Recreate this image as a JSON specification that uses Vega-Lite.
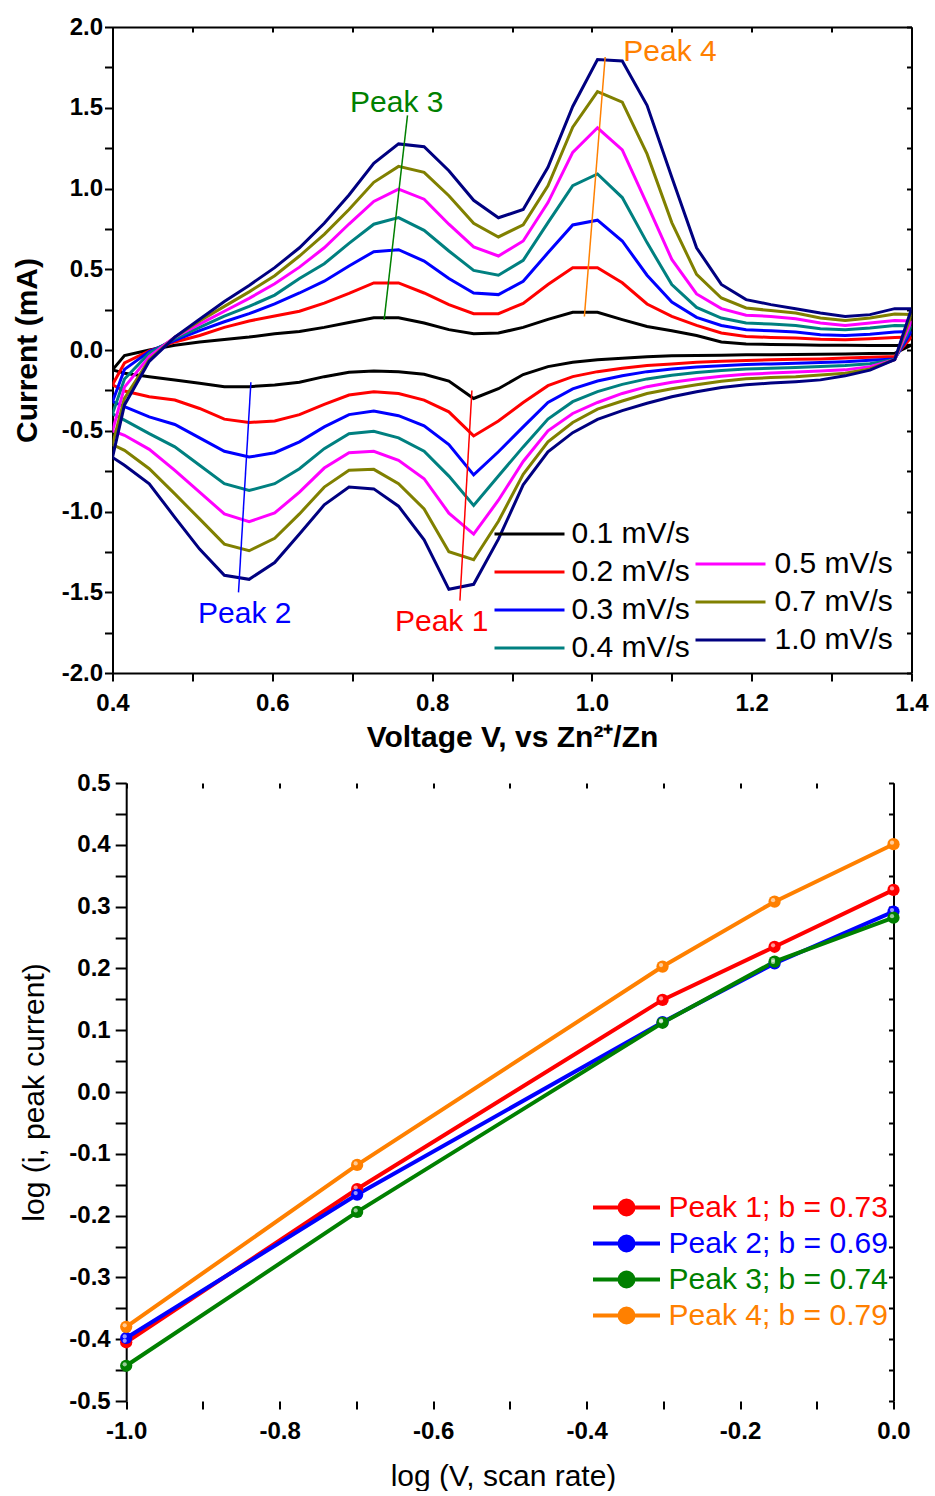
{
"$schema": "https://vega.github.io/schema/vega-lite/v6.json",
"background": "white",
"padding": {"left": 11.5, "top": 15, "right": 0, "bottom": 0},
"config": {
  "view": {"stroke": null},
  "font": "Liberation Sans",
  "axis": {"domainColor": "black", "domainWidth": 2, "tickColor": "black", "tickWidth": 2, "labelFont": "Liberation Sans", "labelFontWeight": "bold", "labelFontSize": 24, "labelColor": "black", "titleColor": "black", "titleFont": "Liberation Sans", "titleFontSize": 30, "grid": false, "labelFlush": false, "labelOverlap": false, "labelBound": false},
  "legend": {"labelFont": "Liberation Sans", "labelFontSize": 30, "labelColor": "black", "labelLimit": 0, "padding": 0, "title": null}
},
"datasets": {
  "cv": [
{"s":"0.1 mV/s","b":"a","v":0.400,"i":-0.123},{"s":"0.1 mV/s","b":"a","v":0.415,"i":-0.035},{"s":"0.1 mV/s","b":"a","v":0.446,"i":0.0},{"s":"0.1 mV/s","b":"a","v":0.478,"i":0.03},{"s":"0.1 mV/s","b":"a","v":0.509,"i":0.05},{"s":"0.1 mV/s","b":"a","v":0.540,"i":0.065},{"s":"0.1 mV/s","b":"a","v":0.571,"i":0.08},{"s":"0.1 mV/s","b":"a","v":0.603,"i":0.10},{"s":"0.1 mV/s","b":"a","v":0.634,"i":0.115},{"s":"0.1 mV/s","b":"a","v":0.665,"i":0.14},{"s":"0.1 mV/s","b":"a","v":0.696,"i":0.17},{"s":"0.1 mV/s","b":"a","v":0.727,"i":0.20},{"s":"0.1 mV/s","b":"a","v":0.758,"i":0.20},{"s":"0.1 mV/s","b":"a","v":0.790,"i":0.167},{"s":"0.1 mV/s","b":"a","v":0.821,"i":0.126},{"s":"0.1 mV/s","b":"a","v":0.852,"i":0.10},{"s":"0.1 mV/s","b":"a","v":0.883,"i":0.105},{"s":"0.1 mV/s","b":"a","v":0.914,"i":0.14},{"s":"0.1 mV/s","b":"a","v":0.945,"i":0.19},{"s":"0.1 mV/s","b":"a","v":0.976,"i":0.233},{"s":"0.1 mV/s","b":"a","v":1.007,"i":0.233},{"s":"0.1 mV/s","b":"a","v":1.038,"i":0.188},{"s":"0.1 mV/s","b":"a","v":1.069,"i":0.146},{"s":"0.1 mV/s","b":"a","v":1.100,"i":0.119},{"s":"0.1 mV/s","b":"a","v":1.131,"i":0.09},{"s":"0.1 mV/s","b":"a","v":1.162,"i":0.05},{"s":"0.1 mV/s","b":"a","v":1.193,"i":0.037},{"s":"0.1 mV/s","b":"a","v":1.224,"i":0.034},{"s":"0.1 mV/s","b":"a","v":1.255,"i":0.032},{"s":"0.1 mV/s","b":"a","v":1.286,"i":0.03},{"s":"0.1 mV/s","b":"a","v":1.317,"i":0.029},{"s":"0.1 mV/s","b":"a","v":1.348,"i":0.028},{"s":"0.1 mV/s","b":"a","v":1.379,"i":0.028},{"s":"0.1 mV/s","b":"a","v":1.400,"i":0.03},
{"s":"0.1 mV/s","b":"c","v":0.400,"i":-0.123},{"s":"0.1 mV/s","b":"c","v":0.415,"i":-0.144},{"s":"0.1 mV/s","b":"c","v":0.446,"i":-0.165},{"s":"0.1 mV/s","b":"c","v":0.478,"i":-0.186},{"s":"0.1 mV/s","b":"c","v":0.509,"i":-0.206},{"s":"0.1 mV/s","b":"c","v":0.540,"i":-0.227},{"s":"0.1 mV/s","b":"c","v":0.571,"i":-0.227},{"s":"0.1 mV/s","b":"c","v":0.603,"i":-0.217},{"s":"0.1 mV/s","b":"c","v":0.634,"i":-0.20},{"s":"0.1 mV/s","b":"c","v":0.665,"i":-0.165},{"s":"0.1 mV/s","b":"c","v":0.696,"i":-0.138},{"s":"0.1 mV/s","b":"c","v":0.727,"i":-0.13},{"s":"0.1 mV/s","b":"c","v":0.758,"i":-0.134},{"s":"0.1 mV/s","b":"c","v":0.790,"i":-0.15},{"s":"0.1 mV/s","b":"c","v":0.821,"i":-0.192},{"s":"0.1 mV/s","b":"c","v":0.852,"i":-0.30},{"s":"0.1 mV/s","b":"c","v":0.883,"i":-0.24},{"s":"0.1 mV/s","b":"c","v":0.914,"i":-0.152},{"s":"0.1 mV/s","b":"c","v":0.945,"i":-0.103},{"s":"0.1 mV/s","b":"c","v":0.976,"i":-0.076},{"s":"0.1 mV/s","b":"c","v":1.007,"i":-0.061},{"s":"0.1 mV/s","b":"c","v":1.038,"i":-0.051},{"s":"0.1 mV/s","b":"c","v":1.069,"i":-0.042},{"s":"0.1 mV/s","b":"c","v":1.100,"i":-0.036},{"s":"0.1 mV/s","b":"c","v":1.131,"i":-0.034},{"s":"0.1 mV/s","b":"c","v":1.162,"i":-0.032},{"s":"0.1 mV/s","b":"c","v":1.193,"i":-0.030},{"s":"0.1 mV/s","b":"c","v":1.224,"i":-0.029},{"s":"0.1 mV/s","b":"c","v":1.255,"i":-0.028},{"s":"0.1 mV/s","b":"c","v":1.286,"i":-0.026},{"s":"0.1 mV/s","b":"c","v":1.317,"i":-0.024},{"s":"0.1 mV/s","b":"c","v":1.348,"i":-0.022},{"s":"0.1 mV/s","b":"c","v":1.379,"i":-0.02},{"s":"0.1 mV/s","b":"c","v":1.400,"i":0.03},
{"s":"0.2 mV/s","b":"a","v":0.400,"i":-0.215},{"s":"0.2 mV/s","b":"a","v":0.415,"i":-0.08},{"s":"0.2 mV/s","b":"a","v":0.446,"i":-0.005},{"s":"0.2 mV/s","b":"a","v":0.478,"i":0.05},{"s":"0.2 mV/s","b":"a","v":0.509,"i":0.09},{"s":"0.2 mV/s","b":"a","v":0.540,"i":0.14},{"s":"0.2 mV/s","b":"a","v":0.571,"i":0.18},{"s":"0.2 mV/s","b":"a","v":0.603,"i":0.21},{"s":"0.2 mV/s","b":"a","v":0.634,"i":0.24},{"s":"0.2 mV/s","b":"a","v":0.665,"i":0.29},{"s":"0.2 mV/s","b":"a","v":0.696,"i":0.35},{"s":"0.2 mV/s","b":"a","v":0.727,"i":0.415},{"s":"0.2 mV/s","b":"a","v":0.758,"i":0.415},{"s":"0.2 mV/s","b":"a","v":0.790,"i":0.353},{"s":"0.2 mV/s","b":"a","v":0.821,"i":0.281},{"s":"0.2 mV/s","b":"a","v":0.852,"i":0.225},{"s":"0.2 mV/s","b":"a","v":0.883,"i":0.225},{"s":"0.2 mV/s","b":"a","v":0.914,"i":0.288},{"s":"0.2 mV/s","b":"a","v":0.945,"i":0.405},{"s":"0.2 mV/s","b":"a","v":0.976,"i":0.509},{"s":"0.2 mV/s","b":"a","v":1.007,"i":0.509},{"s":"0.2 mV/s","b":"a","v":1.038,"i":0.416},{"s":"0.2 mV/s","b":"a","v":1.069,"i":0.285},{"s":"0.2 mV/s","b":"a","v":1.100,"i":0.208},{"s":"0.2 mV/s","b":"a","v":1.131,"i":0.152},{"s":"0.2 mV/s","b":"a","v":1.162,"i":0.105},{"s":"0.2 mV/s","b":"a","v":1.193,"i":0.084},{"s":"0.2 mV/s","b":"a","v":1.224,"i":0.078},{"s":"0.2 mV/s","b":"a","v":1.255,"i":0.074},{"s":"0.2 mV/s","b":"a","v":1.286,"i":0.066},{"s":"0.2 mV/s","b":"a","v":1.317,"i":0.063},{"s":"0.2 mV/s","b":"a","v":1.348,"i":0.07},{"s":"0.2 mV/s","b":"a","v":1.379,"i":0.078},{"s":"0.2 mV/s","b":"a","v":1.400,"i":0.08},
{"s":"0.2 mV/s","b":"c","v":0.400,"i":-0.215},{"s":"0.2 mV/s","b":"c","v":0.415,"i":-0.254},{"s":"0.2 mV/s","b":"c","v":0.446,"i":-0.289},{"s":"0.2 mV/s","b":"c","v":0.478,"i":-0.31},{"s":"0.2 mV/s","b":"c","v":0.509,"i":-0.362},{"s":"0.2 mV/s","b":"c","v":0.540,"i":-0.428},{"s":"0.2 mV/s","b":"c","v":0.571,"i":-0.449},{"s":"0.2 mV/s","b":"c","v":0.603,"i":-0.44},{"s":"0.2 mV/s","b":"c","v":0.634,"i":-0.40},{"s":"0.2 mV/s","b":"c","v":0.665,"i":-0.337},{"s":"0.2 mV/s","b":"c","v":0.696,"i":-0.279},{"s":"0.2 mV/s","b":"c","v":0.727,"i":-0.258},{"s":"0.2 mV/s","b":"c","v":0.758,"i":-0.269},{"s":"0.2 mV/s","b":"c","v":0.790,"i":-0.31},{"s":"0.2 mV/s","b":"c","v":0.821,"i":-0.383},{"s":"0.2 mV/s","b":"c","v":0.852,"i":-0.532},{"s":"0.2 mV/s","b":"c","v":0.883,"i":-0.44},{"s":"0.2 mV/s","b":"c","v":0.914,"i":-0.325},{"s":"0.2 mV/s","b":"c","v":0.945,"i":-0.221},{"s":"0.2 mV/s","b":"c","v":0.976,"i":-0.165},{"s":"0.2 mV/s","b":"c","v":1.007,"i":-0.134},{"s":"0.2 mV/s","b":"c","v":1.038,"i":-0.113},{"s":"0.2 mV/s","b":"c","v":1.069,"i":-0.096},{"s":"0.2 mV/s","b":"c","v":1.100,"i":-0.086},{"s":"0.2 mV/s","b":"c","v":1.131,"i":-0.076},{"s":"0.2 mV/s","b":"c","v":1.162,"i":-0.07},{"s":"0.2 mV/s","b":"c","v":1.193,"i":-0.065},{"s":"0.2 mV/s","b":"c","v":1.224,"i":-0.061},{"s":"0.2 mV/s","b":"c","v":1.255,"i":-0.058},{"s":"0.2 mV/s","b":"c","v":1.286,"i":-0.055},{"s":"0.2 mV/s","b":"c","v":1.317,"i":-0.05},{"s":"0.2 mV/s","b":"c","v":1.348,"i":-0.045},{"s":"0.2 mV/s","b":"c","v":1.379,"i":-0.04},{"s":"0.2 mV/s","b":"c","v":1.400,"i":0.08},
{"s":"0.3 mV/s","b":"a","v":0.400,"i":-0.32},{"s":"0.3 mV/s","b":"a","v":0.415,"i":-0.12},{"s":"0.3 mV/s","b":"a","v":0.446,"i":-0.01},{"s":"0.3 mV/s","b":"a","v":0.478,"i":0.06},{"s":"0.3 mV/s","b":"a","v":0.509,"i":0.12},{"s":"0.3 mV/s","b":"a","v":0.540,"i":0.175},{"s":"0.3 mV/s","b":"a","v":0.571,"i":0.225},{"s":"0.3 mV/s","b":"a","v":0.603,"i":0.285},{"s":"0.3 mV/s","b":"a","v":0.634,"i":0.353},{"s":"0.3 mV/s","b":"a","v":0.665,"i":0.426},{"s":"0.3 mV/s","b":"a","v":0.696,"i":0.52},{"s":"0.3 mV/s","b":"a","v":0.727,"i":0.609},{"s":"0.3 mV/s","b":"a","v":0.758,"i":0.621},{"s":"0.3 mV/s","b":"a","v":0.790,"i":0.551},{"s":"0.3 mV/s","b":"a","v":0.821,"i":0.443},{"s":"0.3 mV/s","b":"a","v":0.852,"i":0.353},{"s":"0.3 mV/s","b":"a","v":0.883,"i":0.343},{"s":"0.3 mV/s","b":"a","v":0.914,"i":0.426},{"s":"0.3 mV/s","b":"a","v":0.945,"i":0.602},{"s":"0.3 mV/s","b":"a","v":0.976,"i":0.774},{"s":"0.3 mV/s","b":"a","v":1.007,"i":0.804},{"s":"0.3 mV/s","b":"a","v":1.038,"i":0.675},{"s":"0.3 mV/s","b":"a","v":1.069,"i":0.463},{"s":"0.3 mV/s","b":"a","v":1.100,"i":0.297},{"s":"0.3 mV/s","b":"a","v":1.131,"i":0.202},{"s":"0.3 mV/s","b":"a","v":1.162,"i":0.152},{"s":"0.3 mV/s","b":"a","v":1.193,"i":0.126},{"s":"0.3 mV/s","b":"a","v":1.224,"i":0.119},{"s":"0.3 mV/s","b":"a","v":1.255,"i":0.111},{"s":"0.3 mV/s","b":"a","v":1.286,"i":0.095},{"s":"0.3 mV/s","b":"a","v":1.317,"i":0.09},{"s":"0.3 mV/s","b":"a","v":1.348,"i":0.098},{"s":"0.3 mV/s","b":"a","v":1.379,"i":0.111},{"s":"0.3 mV/s","b":"a","v":1.400,"i":0.115},
{"s":"0.3 mV/s","b":"c","v":0.400,"i":-0.32},{"s":"0.3 mV/s","b":"c","v":0.415,"i":-0.351},{"s":"0.3 mV/s","b":"c","v":0.446,"i":-0.414},{"s":"0.3 mV/s","b":"c","v":0.478,"i":-0.461},{"s":"0.3 mV/s","b":"c","v":0.509,"i":-0.544},{"s":"0.3 mV/s","b":"c","v":0.540,"i":-0.627},{"s":"0.3 mV/s","b":"c","v":0.571,"i":-0.663},{"s":"0.3 mV/s","b":"c","v":0.603,"i":-0.636},{"s":"0.3 mV/s","b":"c","v":0.634,"i":-0.569},{"s":"0.3 mV/s","b":"c","v":0.665,"i":-0.476},{"s":"0.3 mV/s","b":"c","v":0.696,"i":-0.40},{"s":"0.3 mV/s","b":"c","v":0.727,"i":-0.378},{"s":"0.3 mV/s","b":"c","v":0.758,"i":-0.407},{"s":"0.3 mV/s","b":"c","v":0.790,"i":-0.47},{"s":"0.3 mV/s","b":"c","v":0.821,"i":-0.586},{"s":"0.3 mV/s","b":"c","v":0.852,"i":-0.773},{"s":"0.3 mV/s","b":"c","v":0.883,"i":-0.63},{"s":"0.3 mV/s","b":"c","v":0.914,"i":-0.476},{"s":"0.3 mV/s","b":"c","v":0.945,"i":-0.325},{"s":"0.3 mV/s","b":"c","v":0.976,"i":-0.241},{"s":"0.3 mV/s","b":"c","v":1.007,"i":-0.192},{"s":"0.3 mV/s","b":"c","v":1.038,"i":-0.159},{"s":"0.3 mV/s","b":"c","v":1.069,"i":-0.134},{"s":"0.3 mV/s","b":"c","v":1.100,"i":-0.117},{"s":"0.3 mV/s","b":"c","v":1.131,"i":-0.106},{"s":"0.3 mV/s","b":"c","v":1.162,"i":-0.097},{"s":"0.3 mV/s","b":"c","v":1.193,"i":-0.09},{"s":"0.3 mV/s","b":"c","v":1.224,"i":-0.086},{"s":"0.3 mV/s","b":"c","v":1.255,"i":-0.082},{"s":"0.3 mV/s","b":"c","v":1.286,"i":-0.077},{"s":"0.3 mV/s","b":"c","v":1.317,"i":-0.072},{"s":"0.3 mV/s","b":"c","v":1.348,"i":-0.064},{"s":"0.3 mV/s","b":"c","v":1.379,"i":-0.055},{"s":"0.3 mV/s","b":"c","v":1.400,"i":0.115},
{"s":"0.4 mV/s","b":"a","v":0.400,"i":-0.395},{"s":"0.4 mV/s","b":"a","v":0.415,"i":-0.18},{"s":"0.4 mV/s","b":"a","v":0.446,"i":-0.02},{"s":"0.4 mV/s","b":"a","v":0.478,"i":0.07},{"s":"0.4 mV/s","b":"a","v":0.509,"i":0.14},{"s":"0.4 mV/s","b":"a","v":0.540,"i":0.21},{"s":"0.4 mV/s","b":"a","v":0.571,"i":0.27},{"s":"0.4 mV/s","b":"a","v":0.603,"i":0.34},{"s":"0.4 mV/s","b":"a","v":0.634,"i":0.443},{"s":"0.4 mV/s","b":"a","v":0.665,"i":0.534},{"s":"0.4 mV/s","b":"a","v":0.696,"i":0.66},{"s":"0.4 mV/s","b":"a","v":0.727,"i":0.779},{"s":"0.4 mV/s","b":"a","v":0.758,"i":0.82},{"s":"0.4 mV/s","b":"a","v":0.790,"i":0.741},{"s":"0.4 mV/s","b":"a","v":0.821,"i":0.613},{"s":"0.4 mV/s","b":"a","v":0.852,"i":0.493},{"s":"0.4 mV/s","b":"a","v":0.883,"i":0.463},{"s":"0.4 mV/s","b":"a","v":0.914,"i":0.555},{"s":"0.4 mV/s","b":"a","v":0.945,"i":0.789},{"s":"0.4 mV/s","b":"a","v":0.976,"i":1.017},{"s":"0.4 mV/s","b":"a","v":1.007,"i":1.09},{"s":"0.4 mV/s","b":"a","v":1.038,"i":0.944},{"s":"0.4 mV/s","b":"a","v":1.069,"i":0.665},{"s":"0.4 mV/s","b":"a","v":1.100,"i":0.405},{"s":"0.4 mV/s","b":"a","v":1.131,"i":0.264},{"s":"0.4 mV/s","b":"a","v":1.162,"i":0.198},{"s":"0.4 mV/s","b":"a","v":1.193,"i":0.167},{"s":"0.4 mV/s","b":"a","v":1.224,"i":0.161},{"s":"0.4 mV/s","b":"a","v":1.255,"i":0.152},{"s":"0.4 mV/s","b":"a","v":1.286,"i":0.132},{"s":"0.4 mV/s","b":"a","v":1.317,"i":0.126},{"s":"0.4 mV/s","b":"a","v":1.348,"i":0.136},{"s":"0.4 mV/s","b":"a","v":1.379,"i":0.152},{"s":"0.4 mV/s","b":"a","v":1.400,"i":0.15},
{"s":"0.4 mV/s","b":"c","v":0.400,"i":-0.395},{"s":"0.4 mV/s","b":"c","v":0.415,"i":-0.434},{"s":"0.4 mV/s","b":"c","v":0.446,"i":-0.518},{"s":"0.4 mV/s","b":"c","v":0.478,"i":-0.60},{"s":"0.4 mV/s","b":"c","v":0.509,"i":-0.714},{"s":"0.4 mV/s","b":"c","v":0.540,"i":-0.828},{"s":"0.4 mV/s","b":"c","v":0.571,"i":-0.87},{"s":"0.4 mV/s","b":"c","v":0.603,"i":-0.828},{"s":"0.4 mV/s","b":"c","v":0.634,"i":-0.735},{"s":"0.4 mV/s","b":"c","v":0.665,"i":-0.611},{"s":"0.4 mV/s","b":"c","v":0.696,"i":-0.518},{"s":"0.4 mV/s","b":"c","v":0.727,"i":-0.503},{"s":"0.4 mV/s","b":"c","v":0.758,"i":-0.544},{"s":"0.4 mV/s","b":"c","v":0.790,"i":-0.627},{"s":"0.4 mV/s","b":"c","v":0.821,"i":-0.781},{"s":"0.4 mV/s","b":"c","v":0.852,"i":-0.963},{"s":"0.4 mV/s","b":"c","v":0.883,"i":-0.78},{"s":"0.4 mV/s","b":"c","v":0.914,"i":-0.60},{"s":"0.4 mV/s","b":"c","v":0.945,"i":-0.428},{"s":"0.4 mV/s","b":"c","v":0.976,"i":-0.32},{"s":"0.4 mV/s","b":"c","v":1.007,"i":-0.258},{"s":"0.4 mV/s","b":"c","v":1.038,"i":-0.213},{"s":"0.4 mV/s","b":"c","v":1.069,"i":-0.179},{"s":"0.4 mV/s","b":"c","v":1.100,"i":-0.157},{"s":"0.4 mV/s","b":"c","v":1.131,"i":-0.14},{"s":"0.4 mV/s","b":"c","v":1.162,"i":-0.127},{"s":"0.4 mV/s","b":"c","v":1.193,"i":-0.118},{"s":"0.4 mV/s","b":"c","v":1.224,"i":-0.113},{"s":"0.4 mV/s","b":"c","v":1.255,"i":-0.109},{"s":"0.4 mV/s","b":"c","v":1.286,"i":-0.102},{"s":"0.4 mV/s","b":"c","v":1.317,"i":-0.096},{"s":"0.4 mV/s","b":"c","v":1.348,"i":-0.085},{"s":"0.4 mV/s","b":"c","v":1.379,"i":-0.058},{"s":"0.4 mV/s","b":"c","v":1.400,"i":0.15},
{"s":"0.5 mV/s","b":"a","v":0.400,"i":-0.50},{"s":"0.5 mV/s","b":"a","v":0.415,"i":-0.23},{"s":"0.5 mV/s","b":"a","v":0.446,"i":-0.04},{"s":"0.5 mV/s","b":"a","v":0.478,"i":0.08},{"s":"0.5 mV/s","b":"a","v":0.509,"i":0.16},{"s":"0.5 mV/s","b":"a","v":0.540,"i":0.24},{"s":"0.5 mV/s","b":"a","v":0.571,"i":0.32},{"s":"0.5 mV/s","b":"a","v":0.603,"i":0.41},{"s":"0.5 mV/s","b":"a","v":0.634,"i":0.513},{"s":"0.5 mV/s","b":"a","v":0.665,"i":0.633},{"s":"0.5 mV/s","b":"a","v":0.696,"i":0.78},{"s":"0.5 mV/s","b":"a","v":0.727,"i":0.92},{"s":"0.5 mV/s","b":"a","v":0.758,"i":0.996},{"s":"0.5 mV/s","b":"a","v":0.790,"i":0.934},{"s":"0.5 mV/s","b":"a","v":0.821,"i":0.779},{"s":"0.5 mV/s","b":"a","v":0.852,"i":0.638},{"s":"0.5 mV/s","b":"a","v":0.883,"i":0.582},{"s":"0.5 mV/s","b":"a","v":0.914,"i":0.675},{"s":"0.5 mV/s","b":"a","v":0.945,"i":0.913},{"s":"0.5 mV/s","b":"a","v":0.976,"i":1.224},{"s":"0.5 mV/s","b":"a","v":1.007,"i":1.376},{"s":"0.5 mV/s","b":"a","v":1.038,"i":1.239},{"s":"0.5 mV/s","b":"a","v":1.069,"i":0.903},{"s":"0.5 mV/s","b":"a","v":1.100,"i":0.561},{"s":"0.5 mV/s","b":"a","v":1.131,"i":0.347},{"s":"0.5 mV/s","b":"a","v":1.162,"i":0.256},{"s":"0.5 mV/s","b":"a","v":1.193,"i":0.215},{"s":"0.5 mV/s","b":"a","v":1.224,"i":0.208},{"s":"0.5 mV/s","b":"a","v":1.255,"i":0.194},{"s":"0.5 mV/s","b":"a","v":1.286,"i":0.167},{"s":"0.5 mV/s","b":"a","v":1.317,"i":0.152},{"s":"0.5 mV/s","b":"a","v":1.348,"i":0.167},{"s":"0.5 mV/s","b":"a","v":1.379,"i":0.182},{"s":"0.5 mV/s","b":"a","v":1.400,"i":0.18},
{"s":"0.5 mV/s","b":"c","v":0.400,"i":-0.50},{"s":"0.5 mV/s","b":"c","v":0.415,"i":-0.528},{"s":"0.5 mV/s","b":"c","v":0.446,"i":-0.615},{"s":"0.5 mV/s","b":"c","v":0.478,"i":-0.745},{"s":"0.5 mV/s","b":"c","v":0.509,"i":-0.88},{"s":"0.5 mV/s","b":"c","v":0.540,"i":-1.015},{"s":"0.5 mV/s","b":"c","v":0.571,"i":-1.063},{"s":"0.5 mV/s","b":"c","v":0.603,"i":-1.009},{"s":"0.5 mV/s","b":"c","v":0.634,"i":-0.88},{"s":"0.5 mV/s","b":"c","v":0.665,"i":-0.731},{"s":"0.5 mV/s","b":"c","v":0.696,"i":-0.636},{"s":"0.5 mV/s","b":"c","v":0.727,"i":-0.627},{"s":"0.5 mV/s","b":"c","v":0.758,"i":-0.683},{"s":"0.5 mV/s","b":"c","v":0.790,"i":-0.797},{"s":"0.5 mV/s","b":"c","v":0.821,"i":-1.01},{"s":"0.5 mV/s","b":"c","v":0.852,"i":-1.14},{"s":"0.5 mV/s","b":"c","v":0.883,"i":-0.93},{"s":"0.5 mV/s","b":"c","v":0.914,"i":-0.69},{"s":"0.5 mV/s","b":"c","v":0.945,"i":-0.50},{"s":"0.5 mV/s","b":"c","v":0.976,"i":-0.393},{"s":"0.5 mV/s","b":"c","v":1.007,"i":-0.325},{"s":"0.5 mV/s","b":"c","v":1.038,"i":-0.269},{"s":"0.5 mV/s","b":"c","v":1.069,"i":-0.227},{"s":"0.5 mV/s","b":"c","v":1.100,"i":-0.20},{"s":"0.5 mV/s","b":"c","v":1.131,"i":-0.18},{"s":"0.5 mV/s","b":"c","v":1.162,"i":-0.163},{"s":"0.5 mV/s","b":"c","v":1.193,"i":-0.15},{"s":"0.5 mV/s","b":"c","v":1.224,"i":-0.143},{"s":"0.5 mV/s","b":"c","v":1.255,"i":-0.136},{"s":"0.5 mV/s","b":"c","v":1.286,"i":-0.13},{"s":"0.5 mV/s","b":"c","v":1.317,"i":-0.123},{"s":"0.5 mV/s","b":"c","v":1.348,"i":-0.103},{"s":"0.5 mV/s","b":"c","v":1.379,"i":-0.06},{"s":"0.5 mV/s","b":"c","v":1.400,"i":0.18},
{"s":"0.7 mV/s","b":"a","v":0.400,"i":-0.585},{"s":"0.7 mV/s","b":"a","v":0.415,"i":-0.30},{"s":"0.7 mV/s","b":"a","v":0.446,"i":-0.06},{"s":"0.7 mV/s","b":"a","v":0.478,"i":0.08},{"s":"0.7 mV/s","b":"a","v":0.509,"i":0.18},{"s":"0.7 mV/s","b":"a","v":0.540,"i":0.27},{"s":"0.7 mV/s","b":"a","v":0.571,"i":0.36},{"s":"0.7 mV/s","b":"a","v":0.603,"i":0.46},{"s":"0.7 mV/s","b":"a","v":0.634,"i":0.582},{"s":"0.7 mV/s","b":"a","v":0.665,"i":0.716},{"s":"0.7 mV/s","b":"a","v":0.696,"i":0.87},{"s":"0.7 mV/s","b":"a","v":0.727,"i":1.038},{"s":"0.7 mV/s","b":"a","v":0.758,"i":1.137},{"s":"0.7 mV/s","b":"a","v":0.790,"i":1.10},{"s":"0.7 mV/s","b":"a","v":0.821,"i":0.955},{"s":"0.7 mV/s","b":"a","v":0.852,"i":0.785},{"s":"0.7 mV/s","b":"a","v":0.883,"i":0.70},{"s":"0.7 mV/s","b":"a","v":0.914,"i":0.775},{"s":"0.7 mV/s","b":"a","v":0.945,"i":1.017},{"s":"0.7 mV/s","b":"a","v":0.976,"i":1.38},{"s":"0.7 mV/s","b":"a","v":1.007,"i":1.60},{"s":"0.7 mV/s","b":"a","v":1.038,"i":1.535},{"s":"0.7 mV/s","b":"a","v":1.069,"i":1.214},{"s":"0.7 mV/s","b":"a","v":1.100,"i":0.789},{"s":"0.7 mV/s","b":"a","v":1.131,"i":0.468},{"s":"0.7 mV/s","b":"a","v":1.162,"i":0.322},{"s":"0.7 mV/s","b":"a","v":1.193,"i":0.26},{"s":"0.7 mV/s","b":"a","v":1.224,"i":0.244},{"s":"0.7 mV/s","b":"a","v":1.255,"i":0.229},{"s":"0.7 mV/s","b":"a","v":1.286,"i":0.198},{"s":"0.7 mV/s","b":"a","v":1.317,"i":0.182},{"s":"0.7 mV/s","b":"a","v":1.348,"i":0.198},{"s":"0.7 mV/s","b":"a","v":1.379,"i":0.223},{"s":"0.7 mV/s","b":"a","v":1.400,"i":0.22},
{"s":"0.7 mV/s","b":"c","v":0.400,"i":-0.585},{"s":"0.7 mV/s","b":"c","v":0.415,"i":-0.621},{"s":"0.7 mV/s","b":"c","v":0.446,"i":-0.735},{"s":"0.7 mV/s","b":"c","v":0.478,"i":-0.891},{"s":"0.7 mV/s","b":"c","v":0.509,"i":-1.046},{"s":"0.7 mV/s","b":"c","v":0.540,"i":-1.202},{"s":"0.7 mV/s","b":"c","v":0.571,"i":-1.243},{"s":"0.7 mV/s","b":"c","v":0.603,"i":-1.166},{"s":"0.7 mV/s","b":"c","v":0.634,"i":-1.015},{"s":"0.7 mV/s","b":"c","v":0.665,"i":-0.849},{"s":"0.7 mV/s","b":"c","v":0.696,"i":-0.745},{"s":"0.7 mV/s","b":"c","v":0.727,"i":-0.739},{"s":"0.7 mV/s","b":"c","v":0.758,"i":-0.828},{"s":"0.7 mV/s","b":"c","v":0.790,"i":-0.984},{"s":"0.7 mV/s","b":"c","v":0.821,"i":-1.249},{"s":"0.7 mV/s","b":"c","v":0.852,"i":-1.299},{"s":"0.7 mV/s","b":"c","v":0.883,"i":-1.06},{"s":"0.7 mV/s","b":"c","v":0.914,"i":-0.77},{"s":"0.7 mV/s","b":"c","v":0.945,"i":-0.569},{"s":"0.7 mV/s","b":"c","v":0.976,"i":-0.449},{"s":"0.7 mV/s","b":"c","v":1.007,"i":-0.366},{"s":"0.7 mV/s","b":"c","v":1.038,"i":-0.316},{"s":"0.7 mV/s","b":"c","v":1.069,"i":-0.269},{"s":"0.7 mV/s","b":"c","v":1.100,"i":-0.24},{"s":"0.7 mV/s","b":"c","v":1.131,"i":-0.215},{"s":"0.7 mV/s","b":"c","v":1.162,"i":-0.193},{"s":"0.7 mV/s","b":"c","v":1.193,"i":-0.178},{"s":"0.7 mV/s","b":"c","v":1.224,"i":-0.171},{"s":"0.7 mV/s","b":"c","v":1.255,"i":-0.165},{"s":"0.7 mV/s","b":"c","v":1.286,"i":-0.155},{"s":"0.7 mV/s","b":"c","v":1.317,"i":-0.144},{"s":"0.7 mV/s","b":"c","v":1.348,"i":-0.117},{"s":"0.7 mV/s","b":"c","v":1.379,"i":-0.06},{"s":"0.7 mV/s","b":"c","v":1.400,"i":0.22},
{"s":"1.0 mV/s","b":"a","v":0.400,"i":-0.665},{"s":"1.0 mV/s","b":"a","v":0.415,"i":-0.34},{"s":"1.0 mV/s","b":"a","v":0.446,"i":-0.07},{"s":"1.0 mV/s","b":"a","v":0.478,"i":0.08},{"s":"1.0 mV/s","b":"a","v":0.509,"i":0.19},{"s":"1.0 mV/s","b":"a","v":0.540,"i":0.30},{"s":"1.0 mV/s","b":"a","v":0.571,"i":0.40},{"s":"1.0 mV/s","b":"a","v":0.603,"i":0.51},{"s":"1.0 mV/s","b":"a","v":0.634,"i":0.633},{"s":"1.0 mV/s","b":"a","v":0.665,"i":0.785},{"s":"1.0 mV/s","b":"a","v":0.696,"i":0.96},{"s":"1.0 mV/s","b":"a","v":0.727,"i":1.156},{"s":"1.0 mV/s","b":"a","v":0.758,"i":1.276},{"s":"1.0 mV/s","b":"a","v":0.790,"i":1.259},{"s":"1.0 mV/s","b":"a","v":0.821,"i":1.11},{"s":"1.0 mV/s","b":"a","v":0.852,"i":0.927},{"s":"1.0 mV/s","b":"a","v":0.883,"i":0.819},{"s":"1.0 mV/s","b":"a","v":0.914,"i":0.87},{"s":"1.0 mV/s","b":"a","v":0.945,"i":1.131},{"s":"1.0 mV/s","b":"a","v":0.976,"i":1.508},{"s":"1.0 mV/s","b":"a","v":1.007,"i":1.799},{"s":"1.0 mV/s","b":"a","v":1.038,"i":1.79},{"s":"1.0 mV/s","b":"a","v":1.069,"i":1.515},{"s":"1.0 mV/s","b":"a","v":1.100,"i":1.069},{"s":"1.0 mV/s","b":"a","v":1.131,"i":0.633},{"s":"1.0 mV/s","b":"a","v":1.162,"i":0.406},{"s":"1.0 mV/s","b":"a","v":1.193,"i":0.312},{"s":"1.0 mV/s","b":"a","v":1.224,"i":0.281},{"s":"1.0 mV/s","b":"a","v":1.255,"i":0.256},{"s":"1.0 mV/s","b":"a","v":1.286,"i":0.229},{"s":"1.0 mV/s","b":"a","v":1.317,"i":0.208},{"s":"1.0 mV/s","b":"a","v":1.348,"i":0.219},{"s":"1.0 mV/s","b":"a","v":1.379,"i":0.256},{"s":"1.0 mV/s","b":"a","v":1.400,"i":0.256},
{"s":"1.0 mV/s","b":"c","v":0.400,"i":-0.665},{"s":"1.0 mV/s","b":"c","v":0.415,"i":-0.714},{"s":"1.0 mV/s","b":"c","v":0.446,"i":-0.828},{"s":"1.0 mV/s","b":"c","v":0.478,"i":-1.036},{"s":"1.0 mV/s","b":"c","v":0.509,"i":-1.233},{"s":"1.0 mV/s","b":"c","v":0.540,"i":-1.395},{"s":"1.0 mV/s","b":"c","v":0.571,"i":-1.42},{"s":"1.0 mV/s","b":"c","v":0.603,"i":-1.316},{"s":"1.0 mV/s","b":"c","v":0.634,"i":-1.14},{"s":"1.0 mV/s","b":"c","v":0.665,"i":-0.959},{"s":"1.0 mV/s","b":"c","v":0.696,"i":-0.849},{"s":"1.0 mV/s","b":"c","v":0.727,"i":-0.86},{"s":"1.0 mV/s","b":"c","v":0.758,"i":-0.967},{"s":"1.0 mV/s","b":"c","v":0.790,"i":-1.175},{"s":"1.0 mV/s","b":"c","v":0.821,"i":-1.482},{"s":"1.0 mV/s","b":"c","v":0.852,"i":-1.451},{"s":"1.0 mV/s","b":"c","v":0.883,"i":-1.171},{"s":"1.0 mV/s","b":"c","v":0.914,"i":-0.835},{"s":"1.0 mV/s","b":"c","v":0.945,"i":-0.631},{"s":"1.0 mV/s","b":"c","v":0.976,"i":-0.512},{"s":"1.0 mV/s","b":"c","v":1.007,"i":-0.43},{"s":"1.0 mV/s","b":"c","v":1.038,"i":-0.375},{"s":"1.0 mV/s","b":"c","v":1.069,"i":-0.33},{"s":"1.0 mV/s","b":"c","v":1.100,"i":-0.29},{"s":"1.0 mV/s","b":"c","v":1.131,"i":-0.258},{"s":"1.0 mV/s","b":"c","v":1.162,"i":-0.232},{"s":"1.0 mV/s","b":"c","v":1.193,"i":-0.215},{"s":"1.0 mV/s","b":"c","v":1.224,"i":-0.205},{"s":"1.0 mV/s","b":"c","v":1.255,"i":-0.196},{"s":"1.0 mV/s","b":"c","v":1.286,"i":-0.185},{"s":"1.0 mV/s","b":"c","v":1.317,"i":-0.16},{"s":"1.0 mV/s","b":"c","v":1.348,"i":-0.125},{"s":"1.0 mV/s","b":"c","v":1.379,"i":-0.06},{"s":"1.0 mV/s","b":"c","v":1.400,"i":0.256}
  ],
  "pkline": [
    {"p":"Peak 1","v1":0.8498,"i1":-0.251,"v2":0.8348,"i2":-1.552},
    {"p":"Peak 2","v1":0.5732,"i1":-0.1995,"v2":0.5577,"i2":-1.5006},
    {"p":"Peak 3","v1":0.7400,"i1":0.187,"v2":0.7692,"i2":1.453},
    {"p":"Peak 4","v1":0.9906,"i1":0.2076,"v2":1.0166,"i2":1.814}
  ],
  "pklabel": [
    {"p":"Peak 1","v":0.812,"i":-1.738},
    {"p":"Peak 2","v":0.5655,"i":-1.693},
    {"p":"Peak 3","v":0.7557,"i":1.473},
    {"p":"Peak 4","v":1.0978,"i":1.789}
  ],
  "bv": [
    {"peak":"Peak 1; b = 0.73","lv":-1.0,"lp":-0.405},{"peak":"Peak 1; b = 0.73","lv":-0.699,"lp":-0.157},{"peak":"Peak 1; b = 0.73","lv":-0.301,"lp":0.149},{"peak":"Peak 1; b = 0.73","lv":-0.155,"lp":0.235},{"peak":"Peak 1; b = 0.73","lv":0.0,"lp":0.327},
    {"peak":"Peak 2; b = 0.69","lv":-1.0,"lp":-0.398},{"peak":"Peak 2; b = 0.69","lv":-0.699,"lp":-0.166},{"peak":"Peak 2; b = 0.69","lv":-0.301,"lp":0.113},{"peak":"Peak 2; b = 0.69","lv":-0.155,"lp":0.208},{"peak":"Peak 2; b = 0.69","lv":0.0,"lp":0.292},
    {"peak":"Peak 3; b = 0.74","lv":-1.0,"lp":-0.443},{"peak":"Peak 3; b = 0.74","lv":-0.699,"lp":-0.194},{"peak":"Peak 3; b = 0.74","lv":-0.301,"lp":0.112},{"peak":"Peak 3; b = 0.74","lv":-0.155,"lp":0.211},{"peak":"Peak 3; b = 0.74","lv":0.0,"lp":0.282},
    {"peak":"Peak 4; b = 0.79","lv":-1.0,"lp":-0.380},{"peak":"Peak 4; b = 0.79","lv":-0.699,"lp":-0.118},{"peak":"Peak 4; b = 0.79","lv":-0.301,"lp":0.203},{"peak":"Peak 4; b = 0.79","lv":-0.155,"lp":0.308},{"peak":"Peak 4; b = 0.79","lv":0.0,"lp":0.401}
  ]
},
"concat": [
{
  "width": 799, "height": 646,
  "layer": [
    {
      "data": {"name": "cv"},
      "transform": [{"filter": {"field": "s", "oneOf": ["0.1 mV/s","0.2 mV/s","0.3 mV/s","0.4 mV/s"]}}],
      "mark": {"type": "line", "strokeWidth": 3, "clip": true},
      "encoding": {
        "x": {"field": "v", "type": "quantitative", "scale": {"domain": [0.4, 1.4], "nice": false, "zero": false},
              "axis": {"orient": "bottom", "values": [0.4,0.5,0.6,0.7,0.8,0.9,1.0,1.1,1.2,1.3,1.4], "labelExpr": "abs(datum.value*5 - round(datum.value*5)) < 0.001 ? replace(format(datum.value, '.1f'), '−', '-') : ''", "tickSize": 8, "labelPadding": 10, "title": "Voltage V, vs Zn²⁺/Zn", "titleFontWeight": "bold", "titlePadding": 7}},
        "y": {"field": "i", "type": "quantitative", "scale": {"domain": [-2, 2], "nice": false, "zero": false},
              "axis": {"orient": "left", "values": [-2,-1.75,-1.5,-1.25,-1,-0.75,-0.5,-0.25,0,0.25,0.5,0.75,1,1.25,1.5,1.75,2], "labelExpr": "abs(datum.value*2 - round(datum.value*2)) < 0.001 ? replace(format(datum.value, '.1f'), '−', '-') : ''", "tickSize": 8, "labelPadding": 2, "title": "Current (mA)", "titleFontWeight": "bold", "titlePadding": 19}},
        "color": {"field": "s", "type": "nominal",
                  "scale": {"domain": ["0.1 mV/s","0.2 mV/s","0.3 mV/s","0.4 mV/s"], "range": ["#000000","#ff0000","#0000ff","#008080"]},
                  "legend": {"orient": "none", "legendX": 402, "legendY": 492, "symbolType": "M-3.5,0H3.5", "symbolSize": 400, "symbolStrokeWidth": 3, "labelOffset": 27, "rowPadding": 8}},
        "detail": {"field": "b"}
      }
    },
    {
      "data": {"name": "cv"},
      "transform": [{"filter": {"field": "s", "oneOf": ["0.5 mV/s","0.7 mV/s","1.0 mV/s"]}}],
      "mark": {"type": "line", "strokeWidth": 3, "clip": true},
      "encoding": {
        "x": {"field": "v", "type": "quantitative", "axis": {"orient": "top", "values": [0.4,0.5,0.6,0.7,0.8,0.9,1.0,1.1,1.2,1.3,1.4], "labels": false, "tickSize": -5, "title": null}},
        "y": {"field": "i", "type": "quantitative", "axis": {"orient": "right", "values": [-2,-1.75,-1.5,-1.25,-1,-0.75,-0.5,-0.25,0,0.25,0.5,0.75,1,1.25,1.5,1.75,2], "labels": false, "tickSize": -5, "title": null}},
        "color": {"field": "s", "type": "nominal",
                  "scale": {"domain": ["0.5 mV/s","0.7 mV/s","1.0 mV/s"], "range": ["#ff00ff","#808000","#000080"]},
                  "legend": {"orient": "none", "legendX": 603, "legendY": 522, "symbolType": "M-3.5,0H3.5", "symbolSize": 400, "symbolStrokeWidth": 3, "labelOffset": 29, "rowPadding": 8}},
        "detail": {"field": "b"}
      }
    },
    {
      "data": {"name": "pkline"},
      "mark": {"type": "rule", "strokeWidth": 1.5},
      "encoding": {
        "x": {"field": "v1", "type": "quantitative", "axis": null},
        "y": {"field": "i1", "type": "quantitative", "axis": null},
        "x2": {"field": "v2"},
        "y2": {"field": "i2"},
        "color": {"field": "p", "type": "nominal", "scale": {"domain": ["Peak 1","Peak 2","Peak 3","Peak 4"], "range": ["#ff0000","#0000ff","#008000","#ff8000"]}, "legend": null}
      }
    },
    {
      "data": {"name": "pklabel"},
      "mark": {"type": "text", "font": "Liberation Sans", "fontSize": 30, "align": "center", "baseline": "alphabetic"},
      "encoding": {
        "x": {"field": "v", "type": "quantitative", "axis": null},
        "y": {"field": "i", "type": "quantitative", "axis": null},
        "text": {"field": "p"},
        "color": {"field": "p", "type": "nominal", "scale": {"domain": ["Peak 1","Peak 2","Peak 3","Peak 4"], "range": ["#ff0000","#0000ff","#008000","#ff8000"]}, "legend": null}
      }
    },
    {
      "mark": {"type": "text", "font": "Open Sans", "fontSize": 23, "align": "center", "baseline": "alphabetic", "color": "black"},
      "encoding": {
        "x": {"datum": 0.4543, "type": "quantitative", "axis": null},
        "y": {"datum": 1.711, "type": "quantitative", "axis": null},
        "text": {"value": "(a)"}
      }
    }
  ],
  "resolve": {"scale": {"color": "independent"}}
},
{
  "width": 781, "height": 618,
  "layer": [
    {
      "data": {"name": "bv"},
      "mark": {"type": "line", "strokeWidth": 4},
      "encoding": {
        "x": {"field": "lv", "type": "quantitative", "scale": {"domain": [-1.01785, 0], "nice": false, "zero": false},
              "axis": {"orient": "bottom", "domain": false, "values": [-1,-0.9,-0.8,-0.7,-0.6,-0.5,-0.4,-0.3,-0.2,-0.1,0], "labelExpr": "abs(datum.value*5 - round(datum.value*5)) < 0.001 ? replace(format(datum.value, '.1f'), '−', '-') : ''", "tickSize": 8, "labelPadding": 10, "title": "log (V, scan rate)", "titleFontWeight": "normal", "titlePadding": 18}},
        "y": {"field": "lp", "type": "quantitative", "scale": {"domain": [-0.5, 0.5], "nice": false, "zero": false},
              "axis": {"orient": "left", "offset": -13.7, "values": [-0.5,-0.45,-0.4,-0.35,-0.3,-0.25,-0.2,-0.15,-0.1,-0.05,0,0.05,0.1,0.15,0.2,0.25,0.3,0.35,0.4,0.45,0.5], "labelExpr": "abs(datum.value*10 - round(datum.value*10)) < 0.001 ? replace(format(datum.value, '.1f'), '−', '-') : ''", "tickSize": 11, "labelPadding": 5, "title": "log (i, peak current)", "titleFontWeight": "normal", "titlePadding": 19}},
        "color": {"field": "peak", "type": "nominal",
                  "scale": {"domain": ["Peak 1; b = 0.73","Peak 2; b = 0.69","Peak 3; b = 0.74","Peak 4; b = 0.79"], "range": ["#ff0000","#0000ff","#008000","#ff8000"]},
                  "legend": {"orient": "none", "legendX": 499, "legendY": 1165.5, "symbolType": "M-3.35,0H3.35M0.7,0A0.7,0.7,0,1,1,-0.7,0A0.7,0.7,0,1,1,0.7,0Z", "symbolSize": 400, "symbolStrokeWidth": 4, "labelOffset": 27, "rowPadding": 6,
                    "labelColor": {"expr": "datum.value == 'Peak 1; b = 0.73' ? '#ff0000' : datum.value == 'Peak 2; b = 0.69' ? '#0000ff' : datum.value == 'Peak 3; b = 0.74' ? '#008000' : '#ff8000'"}}
        }
      }
    },
    {
      "data": {"name": "bv"},
      "mark": {"type": "point", "shape": "circle", "filled": true, "size": 150, "opacity": 1},
      "encoding": {
        "x": {"field": "lv", "type": "quantitative", "axis": {"orient": "top", "domain": false, "values": [-1,-0.9,-0.8,-0.7,-0.6,-0.5,-0.4,-0.3,-0.2,-0.1,0], "labels": false, "tickSize": -5, "title": null}},
        "y": {"field": "lp", "type": "quantitative", "axis": {"orient": "right", "values": [-0.5,-0.45,-0.4,-0.35,-0.3,-0.25,-0.2,-0.15,-0.1,-0.05,0,0.05,0.1,0.15,0.2,0.25,0.3,0.35,0.4,0.45,0.5], "labels": false, "tickSize": -5, "title": null}},
        "color": {"field": "peak", "type": "nominal",
                  "legend": {"orient": "none", "legendX": 499, "legendY": 1165.5, "symbolType": "M-3.35,0H3.35M0.7,0A0.7,0.7,0,1,1,-0.7,0A0.7,0.7,0,1,1,0.7,0Z", "symbolSize": 400, "symbolStrokeWidth": 4, "labelOffset": 27, "rowPadding": 6,
                    "labelColor": {"expr": "datum.value == 'Peak 1; b = 0.73' ? '#ff0000' : datum.value == 'Peak 2; b = 0.69' ? '#0000ff' : datum.value == 'Peak 3; b = 0.74' ? '#008000' : '#ff8000'"}}}
      }
    },
    {
      "data": {"name": "bv"},
      "mark": {"type": "point", "shape": "circle", "filled": true, "size": 18, "color": "white", "opacity": 0.6, "xOffset": -1.5, "yOffset": -1.5},
      "encoding": {
        "x": {"field": "lv", "type": "quantitative", "axis": null},
        "y": {"field": "lp", "type": "quantitative", "axis": null}
      }
    },
    {
      "mark": {"type": "rule", "strokeWidth": 2, "color": "black"},
      "encoding": {
        "x": {"datum": -1, "type": "quantitative", "axis": null},
        "x2": {"datum": 0},
        "y": {"datum": -0.5, "type": "quantitative", "axis": null}
      }
    },
    {
      "mark": {"type": "rule", "strokeWidth": 2, "color": "black"},
      "encoding": {
        "x": {"datum": -1, "type": "quantitative", "axis": null},
        "x2": {"datum": 0},
        "y": {"datum": 0.5, "type": "quantitative", "axis": null}
      }
    },
    {
      "mark": {"type": "text", "font": "Open Sans", "fontSize": 23, "align": "center", "baseline": "alphabetic", "color": "black"},
      "encoding": {
        "x": {"datum": -0.9494, "type": "quantitative", "axis": null},
        "y": {"datum": 0.4255, "type": "quantitative", "axis": null},
        "text": {"value": "(b)"}
      }
    }
  ]
}
],
"columns": 1,
"align": "none",
"center": true,
"spacing": 19
}
